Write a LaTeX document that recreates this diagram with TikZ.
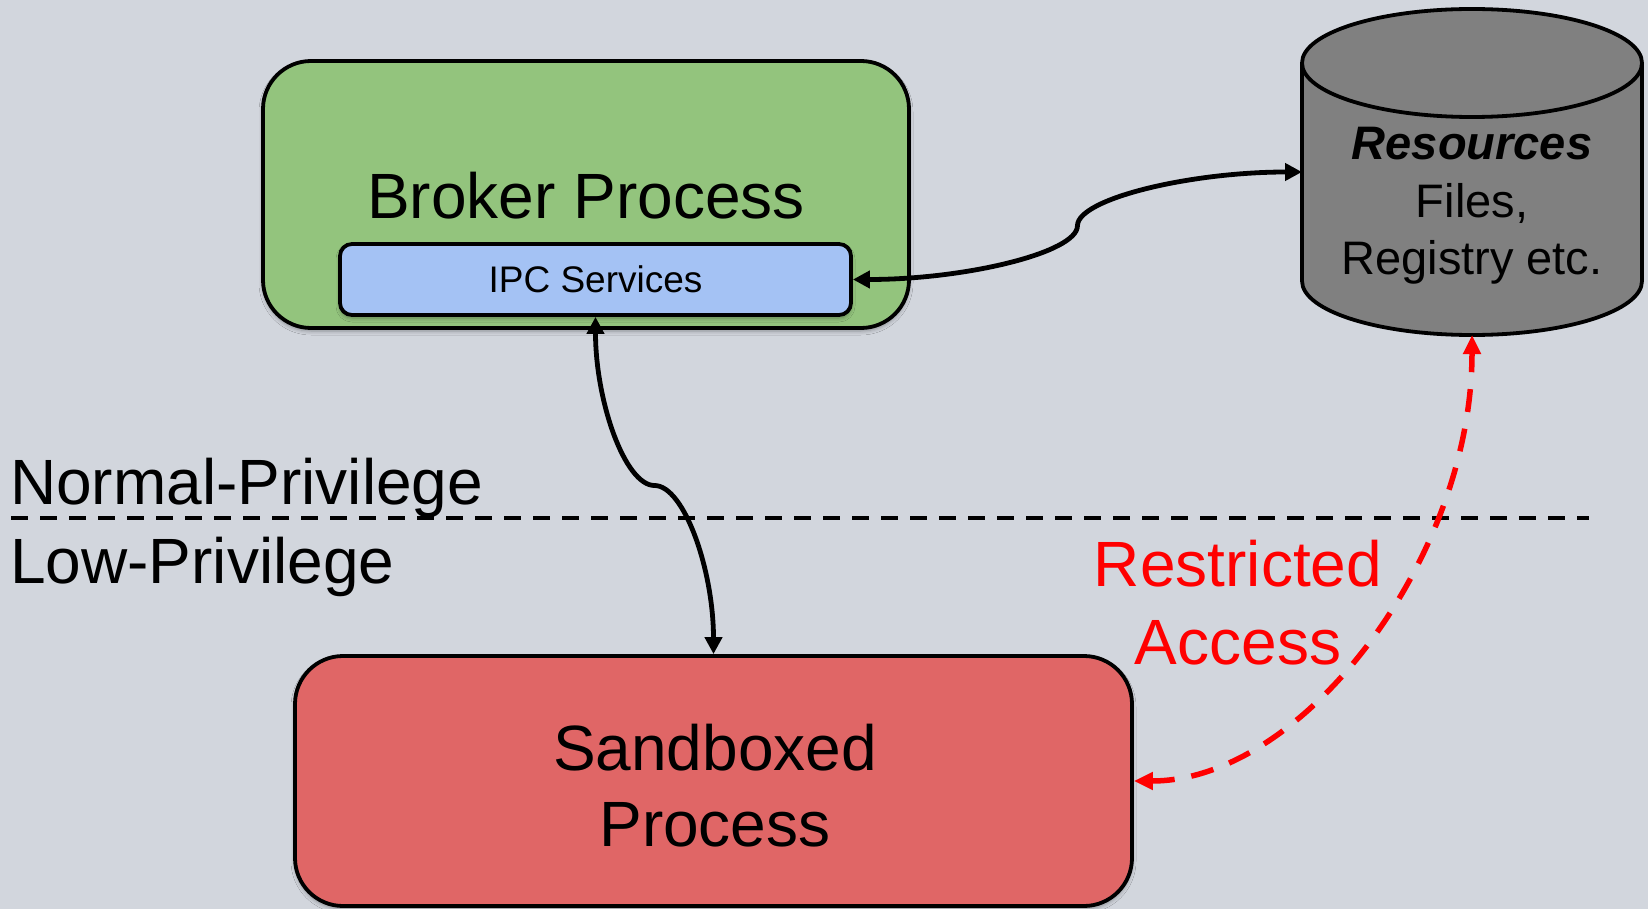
\documentclass[tikz,border=0pt]{standalone}
\usepackage{fontspec}
\setmainfont{Liberation Sans}
\usetikzlibrary{arrows.meta,calc,shadows.blur}

\definecolor{slidebg}{RGB}{210,214,221}
\definecolor{brokergreen}{RGB}{147,196,125}
\definecolor{ipcblue}{RGB}{164,194,244}
\definecolor{sandred}{RGB}{224,102,102}
\definecolor{storegray}{RGB}{128,128,128}
\definecolor{accessred}{RGB}{255,0,0}

\begin{document}
\begin{tikzpicture}[x=1pt,y=-1pt,
  box/.style={draw=black, line width=3.8pt, rounded corners=48pt, inner sep=0pt,
    blur shadow={shadow xshift=0pt, shadow yshift=-3pt, shadow blur radius=4pt, shadow opacity=35}},
  bigtext/.style={font=\fontsize{64}{76}\selectfont, inner sep=0pt, anchor=base},
  midtext/.style={font=\fontsize{47}{57}\selectfont, inner sep=0pt, anchor=base},
  smalltext/.style={font=\fontsize{37}{44}\selectfont, inner sep=0pt, anchor=base},
  tip/.tip={Triangle[length=17pt,width=17pt]},
  link/.style={line width=4.8pt, draw=black, tip-tip},
  restricted/.style={line width=5.5pt, draw=accessred, fill=none, dash pattern=on 23pt off 17pt,
    {Triangle[length=19pt,width=17pt,fill=accessred]}-{Triangle[length=19pt,width=17pt,fill=accessred]}},
  divider/.style={line width=4.2pt, draw=black, dash pattern=on 17pt off 12pt}
]
% canvas
\fill[slidebg] (0,0) rectangle (1648,909);
\useasboundingbox (0,0) rectangle (1648,909);

% broker process with its IPC service box
\node[box, fill=brokergreen, minimum width=646pt, minimum height=267pt] (broker) at (586,194.5) {};
\node[bigtext] (brokerlabel) at (586,219) {Broker Process};
\node[box, fill=ipcblue, rounded corners=12pt, minimum width=511pt, minimum height=71pt] (ipc) at (595.5,279.5) {};
\node[smalltext] (ipclabel) at (595.5,292) {IPC Services};

% sandboxed process
\node[box, fill=sandred, minimum width=837pt, minimum height=250pt] (sandbox) at (713.5,781) {};
\node[bigtext] (sandlabel) at (715,770) {Sandboxed};
\node[bigtext] (proclabel) at (715,846) {Process};

% resources store (cylinder)
\fill[storegray] (1302,63) -- (1302,281)
  arc[start angle=180, end angle=0, x radius=170, y radius=54] -- (1642,63) -- cycle;
\draw[line width=3.8pt] (1302,63) -- (1302,281)
  arc[start angle=180, end angle=0, x radius=170, y radius=54] -- (1642,63);
\draw[line width=3.8pt, fill=storegray] (1472,63) ellipse [x radius=170, y radius=54];
\node[minimum width=340pt, minimum height=326pt, inner sep=0pt, outer sep=0pt] (res) at (1472,172) {};
\node[midtext, font=\fontsize{47}{57}\selectfont\bfseries\itshape] (reslabel) at (1472,160) {Resources};
\node[midtext] (fileslabel) at (1472,218) {Files,};
\node[midtext] (reglabel) at (1472,275) {Registry etc.};

% privilege boundary
\coordinate (divL) at (11,518);
\coordinate (divR) at (1589,518);
\draw[divider] (divL) -- (divR);
\node[bigtext, anchor=base west] (normal) at (10,504) {Normal-Privilege};
\node[bigtext, anchor=base west] (low) at (10,583) {Low-Privilege};

% IPC <-> resources
\coordinate (m1) at ($(ipc.east)!0.5!(res.west)$);
\draw[link] (ipc.east)
  .. controls ($(ipc.east)!0.5!(ipc.east -| m1)$) and ($(m1)!0.5!(m1 |- ipc.east)$) .. (m1)
  .. controls ($(m1)!0.5!(m1 |- res.west)$) and ($(res.west)!0.5!(res.west -| m1)$) .. (res.west);

% IPC <-> sandboxed process
\coordinate (m2) at ($(ipc.south)!0.5!(sandbox.north)$);
\draw[link] (ipc.south)
  .. controls ($(ipc.south)!0.5!(ipc.south |- m2)$) and ($(m2)!0.5!(m2 -| ipc.south)$) .. (m2)
  .. controls ($(m2)!0.5!(m2 -| sandbox.north)$) and ($(sandbox.north)!0.5!(sandbox.north |- m2)$) .. (sandbox.north);

% restricted access path
\draw[restricted] (sandbox.east)
  .. controls ($(sandbox.east)!0.5!(sandbox.east -| res.south)$) and ($(res.south)!0.5!(res.south |- sandbox.east)$) .. (res.south);
\node[bigtext, text=accessred] (restlabel) at (1238,586) {Restricted};
\node[bigtext, text=accessred] (acclabel) at (1238,664) {Access};
\end{tikzpicture}
\end{document}
